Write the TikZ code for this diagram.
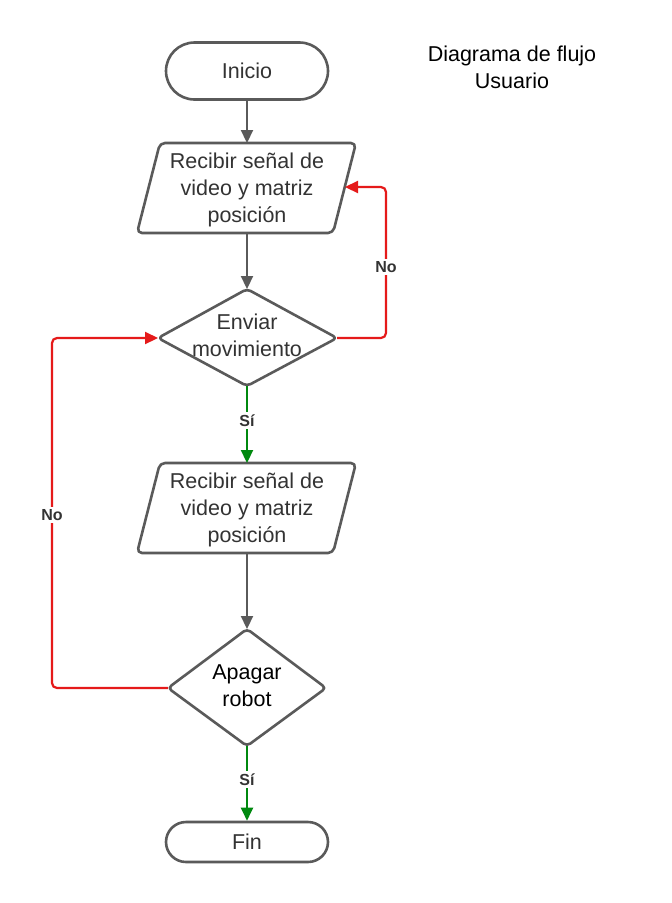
\documentclass[tikz,border=0pt]{standalone}
\usepackage{fontspec}
\setmainfont{Liberation Sans}
\usetikzlibrary{arrows.meta,shapes.misc}
\definecolor{linegray}{HTML}{5A5A5A}
\definecolor{txtgray}{HTML}{333333}
\definecolor{myred}{HTML}{E51A1A}
\definecolor{mygreen}{HTML}{00890F}
\begin{document}
\begin{tikzpicture}[x=1pt,y=-1pt,
  shapeline/.style={draw=linegray, line width=2.6pt, line join=round, rounded corners=5pt},
  term/.style={rounded rectangle, draw=linegray, line width=2.6pt, minimum width=162pt,
    font=\fontsize{21.5}{27}\selectfont, text=txtgray, inner sep=0pt},
  txt/.style={font=\fontsize{21.5}{27}\selectfont, text=txtgray, align=center, inner sep=0pt},
  flow/.style={draw=linegray, line width=2.2pt, -{Triangle[length=13pt,width=12pt]}},
  yes/.style={draw=mygreen, line width=2.2pt, -{Triangle[length=13pt,width=12pt]}},
  no/.style={draw=myred, line width=2.2pt, rounded corners=5pt, -{Triangle[length=13pt,width=12pt]}},
  lab/.style={font=\fontsize{16}{19}\selectfont\bfseries, text=txtgray, fill=white, inner sep=2.5pt}
]
\useasboundingbox[fill=white] (0,0) rectangle (672,903);

% title
\node[font=\fontsize{21.5}{27}\selectfont, align=center, text=black] (title) at (512,67) {Diagrama de flujo\\Usuario};

% terminals
\node[term, minimum height=57pt] (inicio) at (247,71) {Inicio};
\node[term, minimum height=40pt] (fin) at (247,842) {Fin};

% parallelogram 1
\coordinate (p1t) at (247,143);
\coordinate (p1b) at (247,233);
\coordinate (p1r) at (345,187);
\draw[shapeline] (160,143) -- (356,143) -- (333,233) -- (137,233) -- cycle;
\node[txt] (p1) at (247,189.5) {Recibir señal de\\video y matriz\\posición};

% diamond 1
\coordinate (d1t) at (247,289);
\coordinate (d1b) at (247,386);
\coordinate (d1l) at (158,338);
\coordinate (d1r) at (337,338);
\draw[shapeline, rounded corners=4pt] (d1t) -- (d1r) -- (d1b) -- (d1l) -- cycle;
\node[txt] (d1) at (247,335) {Enviar\\movimiento};

% parallelogram 2
\coordinate (p2t) at (247,463);
\coordinate (p2b) at (247,553);
\draw[shapeline] (160,463) -- (356,463) -- (333,553) -- (137,553) -- cycle;
\node[txt] (p2) at (247,510) {Recibir señal de\\video y matriz\\posición};

% diamond 2
\coordinate (d2t) at (247,629);
\coordinate (d2b) at (247,746);
\coordinate (d2l) at (168,688);
\coordinate (d2r) at (326,688);
\draw[shapeline, rounded corners=4pt] (d2t) -- (d2r) -- (d2b) -- (d2l) -- cycle;
\node[txt, text=black] (d2) at (247,685.5) {Apagar\\robot};

% connectors
\draw[flow] (inicio.south) -- (p1t);
\draw[flow] (p1b) -- (d1t);
\draw[yes] (d1b) -- node[lab, pos=0.45] (si1) {Sí} (p2t);
\draw[flow] (p2b) -- (d2t);
\draw[yes] (d2b) -- node[lab, pos=0.45] (si2) {Sí} (fin.north);

\coordinate (c1a) at (386,338);
\coordinate (c1b) at (386,187);
\draw[no] (d1r) -- (c1a) -- (c1b) -- (p1r);
\node[lab] (no1) at (386,267) {No};

\coordinate (c2a) at (52,688);
\coordinate (c2b) at (52,338);
\draw[no] (d2l) -- (c2a) -- (c2b) -- (d1l);
\node[lab] (no2) at (52,515) {No};
\end{tikzpicture}
\end{document}
